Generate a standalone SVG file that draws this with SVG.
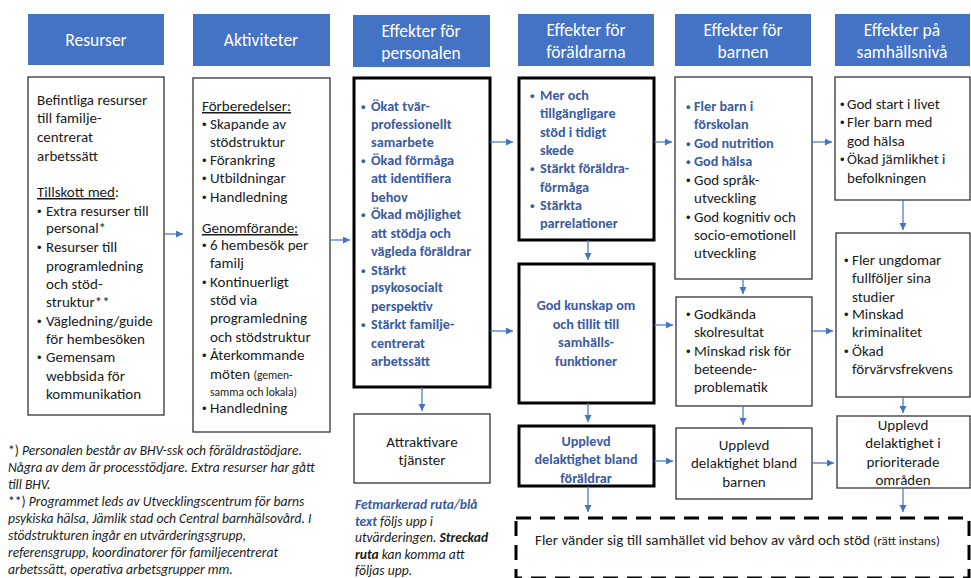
<svg xmlns="http://www.w3.org/2000/svg" width="971" height="578" viewBox="0 0 971 578">
<style>
text{font-family:Carlito,Lato,"Liberation Sans",sans-serif;font-size:15px;fill:#1a1a1a}
.h{fill:#4472C4}
.ht{fill:#fff;font-size:17.5px;text-anchor:middle}
.box{fill:#fff;stroke:#333;stroke-width:1.3}
.tbox{fill:#fff;stroke:#000;stroke-width:3}
.b{fill:#3A5BA0;font-weight:bold;font-size:14.2px}
.bu{font-family:"Liberation Sans",sans-serif;font-size:13px}
.c{text-anchor:middle}
.sm{font-size:11.5px}
.u{text-decoration:underline}
.fn{font-size:13.6px;font-style:italic}
.ni{font-style:normal}
.bi{font-weight:bold}
.bl{fill:#3A5BA0}
.dash{fill:none;stroke:#000;stroke-width:3;stroke-dasharray:15 9}
.con path{fill:none;stroke:#4472C4;stroke-width:1.2;marker-end:url(#ah)}
</style>
<defs>
<marker id="ah" markerUnits="userSpaceOnUse" markerWidth="8" markerHeight="8" refX="7" refY="3.5" orient="auto">
<path d="M0,0 L7,3.5 L0,7 z" fill="#4472C4"/>
</marker>
</defs>
<rect width="971" height="578" fill="#fff"/>

<g id="headers">
<rect class="h" x="28" y="14" width="136" height="51"/>
<text class="ht" x="96" y="46">Resurser</text>
<rect class="h" x="193" y="14" width="137" height="52"/>
<text class="ht" x="261" y="46">Aktiviteter</text>
<rect class="h" x="353" y="15" width="137" height="52"/>
<text class="ht" x="421" y="37">Effekter för</text>
<text class="ht" x="421" y="59">personalen</text>
<rect class="h" x="518" y="14" width="136" height="52"/>
<text class="ht" x="586" y="36">Effekter för</text>
<text class="ht" x="586" y="58">föräldrarna</text>
<rect class="h" x="675" y="14" width="136" height="52"/>
<text class="ht" x="743" y="36">Effekter för</text>
<text class="ht" x="743" y="58">barnen</text>
<rect class="h" x="835" y="14" width="135" height="52"/>
<text class="ht" x="902" y="36">Effekter på</text>
<text class="ht" x="902" y="58">samhällsnivå</text>
</g>

<g id="resurser">
<rect class="box" x="28" y="77" width="136" height="338"/>
<text x="37" y="105">Befintliga resurser</text>
<text x="37" y="123">till familje-</text>
<text x="37" y="142">centrerat</text>
<text x="37" y="161">arbetssätt</text>
<text x="37" y="197"><tspan class="u">Tillskott med</tspan>:</text>
<text class="bu" x="37" y="216">•</text><text x="46" y="216">Extra resurser till</text>
<text x="46" y="233">personal*</text>
<text class="bu" x="37" y="252">•</text><text x="46" y="252">Resurser till</text>
<text x="46" y="271">programledning</text>
<text x="46" y="289">och stöd-</text>
<text x="46" y="307">struktur**</text>
<text class="bu" x="37" y="326">•</text><text x="46" y="326">Vägledning/guide</text>
<text x="46" y="344">för hembesöken</text>
<text class="bu" x="37" y="362">•</text><text x="46" y="362">Gemensam</text>
<text x="46" y="381">webbsida för</text>
<text x="46" y="399">kommunikation</text>
</g>

<g id="aktiviteter">
<rect class="box" x="193" y="78" width="137" height="354"/>
<text x="202" y="111" class="u">Förberedelser:</text>
<text class="bu" x="202" y="129">•</text><text x="210" y="129">Skapande av</text>
<text x="210" y="147">stödstruktur</text>
<text class="bu" x="202" y="165">•</text><text x="210" y="165">Förankring</text>
<text class="bu" x="202" y="183">•</text><text x="210" y="183">Utbildningar</text>
<text class="bu" x="202" y="202">•</text><text x="210" y="202">Handledning</text>
<text x="202" y="233" class="u">Genomförande:</text>
<text class="bu" x="202" y="250">•</text><text x="210" y="250">6 hembesök per</text>
<text x="210" y="268">familj</text>
<text class="bu" x="202" y="287">•</text><text x="210" y="287">Kontinuerligt</text>
<text x="210" y="305">stöd via</text>
<text x="210" y="323">programledning</text>
<text x="210" y="342">och stödstruktur</text>
<text class="bu" x="202" y="360">•</text><text x="210" y="360">Återkommande</text>
<text x="210" y="379">möten <tspan class="sm">(gemen-</tspan></text>
<text x="210" y="396" class="sm">samma och lokala)</text>
<text class="bu" x="202" y="413">•</text><text x="210" y="413">Handledning</text>
</g>

<g id="personalen">
<rect class="tbox" x="354" y="78" width="136" height="309"/>
<text class="b bu" x="361" y="111">•</text><text class="b" x="371" y="111">Ökat tvär-</text>
<text class="b" x="371" y="129">professionellt</text>
<text class="b" x="371" y="147">samarbete</text>
<text class="b bu" x="361" y="165">•</text><text class="b" x="371" y="165">Ökad förmåga</text>
<text class="b" x="371" y="183">att identifiera</text>
<text class="b" x="371" y="202">behov</text>
<text class="b bu" x="361" y="219">•</text><text class="b" x="371" y="219">Ökad möjlighet</text>
<text class="b" x="371" y="238">att stödja och</text>
<text class="b" x="371" y="256">vägleda föräldrar</text>
<text class="b bu" x="361" y="275">•</text><text class="b" x="371" y="275">Stärkt</text>
<text class="b" x="371" y="292">psykosocialt</text>
<text class="b" x="371" y="311">perspektiv</text>
<text class="b bu" x="361" y="329">•</text><text class="b" x="371" y="329">Stärkt familje-</text>
<text class="b" x="371" y="348">centrerat</text>
<text class="b" x="371" y="366">arbetssätt</text>
</g>

<g id="attraktivare">
<rect class="box" x="354" y="414" width="136" height="69"/>
<text class="c" x="422" y="447">Attraktivare</text>
<text class="c" x="422" y="465">tjänster</text>
</g>

<g id="foraldrar-stod">
<rect class="tbox" x="519" y="78" width="135" height="162"/>
<text class="b bu" x="530" y="100">•</text><text class="b" x="540" y="100">Mer och</text>
<text class="b" x="540" y="118">tillgängligare</text>
<text class="b" x="540" y="137">stöd i tidigt</text>
<text class="b" x="540" y="155">skede</text>
<text class="b bu" x="530" y="173">•</text><text class="b" x="540" y="173">Stärkt föräldra-</text>
<text class="b" x="540" y="192">förmåga</text>
<text class="b bu" x="530" y="210">•</text><text class="b" x="540" y="210">Stärkta</text>
<text class="b" x="540" y="228">parrelationer</text>
</g>

<g id="god-kunskap">
<rect class="tbox" x="519" y="264" width="135" height="139"/>
<text class="b c" x="586" y="310">God kunskap om</text>
<text class="b c" x="586" y="329">och tillit till</text>
<text class="b c" x="586" y="347">samhälls-</text>
<text class="b c" x="586" y="366">funktioner</text>
</g>

<g id="delaktighet-foraldrar">
<rect class="tbox" x="519" y="426" width="135" height="60"/>
<text class="b c" x="586" y="446">Upplevd</text>
<text class="b c" x="586" y="464">delaktighet bland</text>
<text class="b c" x="586" y="483">föräldrar</text>
</g>

<g id="barnen">
<rect class="box" x="675" y="77" width="137" height="202"/>
<text class="b bu" x="686" y="111">•</text><text class="b" x="694" y="111">Fler barn i</text>
<text class="b" x="694" y="129">förskolan</text>
<text class="b bu" x="686" y="148">•</text><text class="b" x="694" y="148">God nutrition</text>
<text class="b bu" x="686" y="166">•</text><text class="b" x="694" y="166">God hälsa</text>
<text class="bu" x="686" y="185">•</text><text x="694" y="185">God språk-</text>
<text x="694" y="203">utveckling</text>
<text class="bu" x="686" y="222">•</text><text x="694" y="222">God kognitiv och</text>
<text x="694" y="240">socio-emotionell</text>
<text x="694" y="258">utveckling</text>
</g>

<g id="godkanda">
<rect class="box" x="676" y="297" width="136" height="109"/>
<text class="bu" x="686" y="319">•</text><text x="694" y="319">Godkända</text>
<text x="694" y="337">skolresultat</text>
<text class="bu" x="686" y="356">•</text><text x="694" y="356">Minskad risk för</text>
<text x="694" y="374">beteende-</text>
<text x="694" y="392">problematik</text>
</g>

<g id="delaktighet-barnen">
<rect class="box" x="676" y="428" width="136" height="71"/>
<text class="c" x="744" y="450">Upplevd</text>
<text class="c" x="744" y="468">delaktighet bland</text>
<text class="c" x="744" y="487">barnen</text>
</g>

<g id="samhalle-1">
<rect class="box" x="835" y="77" width="135" height="123"/>
<text class="bu" x="840" y="109">•</text><text x="847" y="109">God start i livet</text>
<text class="bu" x="840" y="127">•</text><text x="847" y="127">Fler barn med</text>
<text x="847" y="146">god hälsa</text>
<text class="bu" x="840" y="164">•</text><text x="847" y="164">Ökad jämlikhet i</text>
<text x="847" y="183">befolkningen</text>
</g>

<g id="samhalle-2">
<rect class="box" x="836" y="233" width="134" height="164"/>
<text class="bu" x="844" y="265">•</text><text x="852" y="265">Fler ungdomar</text>
<text x="852" y="283">fullföljer sina</text>
<text x="852" y="302">studier</text>
<text class="bu" x="844" y="319">•</text><text x="852" y="319">Minskad</text>
<text x="852" y="337">kriminalitet</text>
<text class="bu" x="844" y="356">•</text><text x="852" y="356">Ökad</text>
<text x="852" y="374">förvärvsfrekvens</text>
</g>

<g id="samhalle-3">
<rect class="box" x="837" y="416" width="133" height="72"/>
<text class="c" x="903" y="430">Upplevd</text>
<text class="c" x="903" y="448">delaktighet i</text>
<text class="c" x="903" y="467">prioriterade</text>
<text class="c" x="903" y="485">områden</text>
</g>

<g id="ratt-instans">
<rect class="dash" x="516" y="518" width="453" height="60"/>
<text x="535" y="545">Fler vänder sig till samhället vid behov av vård och stöd <tspan style="font-size:13px">(rätt instans)</tspan></text>
</g>

<g id="footnotes">
<text class="fn" x="8" y="455"><tspan class="ni">*)</tspan> Personalen består av BHV-ssk och föräldrastödjare.</text>
<text class="fn" x="8" y="472">Några av dem är processtödjare. Extra resurser har gått</text>
<text class="fn" x="8" y="489">till BHV.</text>
<text class="fn" x="8" y="506"><tspan class="ni">**)</tspan> Programmet leds av Utvecklingscentrum för barns</text>
<text class="fn" x="8" y="523">psykiska hälsa, Jämlik stad och Central barnhälsovård. I</text>
<text class="fn" x="8" y="540">stödstrukturen ingår en utvärderingsgrupp,</text>
<text class="fn" x="8" y="557">referensgrupp, koordinatorer för familjecentrerat</text>
<text class="fn" x="8" y="574">arbetssätt, operativa arbetsgrupper mm.</text>
</g>

<g id="legend">
<text class="fn" x="355" y="509"><tspan class="bi bl">Fetmarkerad ruta/blå</tspan></text>
<text class="fn" x="355" y="525.5"><tspan class="bi bl">text</tspan> följs upp i</text>
<text class="fn" x="355" y="542">utvärderingen. <tspan class="bi">Streckad</tspan></text>
<text class="fn" x="355" y="558.5"><tspan class="bi">ruta</tspan> kan komma att</text>
<text class="fn" x="355" y="575">följas upp.</text>
</g>

<g id="connectors" class="con">
<path d="M164,234 H183"/>
<path d="M330,240 H350"/>
<path d="M490,142 H513"/>
<path d="M654,142 H672"/>
<path d="M490,331 H513"/>
<path d="M654,325 H673"/>
<path d="M588,240 V260"/>
<path d="M588,403 V422"/>
<path d="M588,486 V512"/>
<path d="M654,461 H673"/>
<path d="M422,387 V411"/>
<path d="M812,142 H832"/>
<path d="M743,279 V294"/>
<path d="M812,331 H833"/>
<path d="M743,406 V425"/>
<path d="M812,463 H834"/>
<path d="M903,200 V230"/>
<path d="M903,397 V413"/>
<path d="M903,488 V512"/>
</g>
</svg>
